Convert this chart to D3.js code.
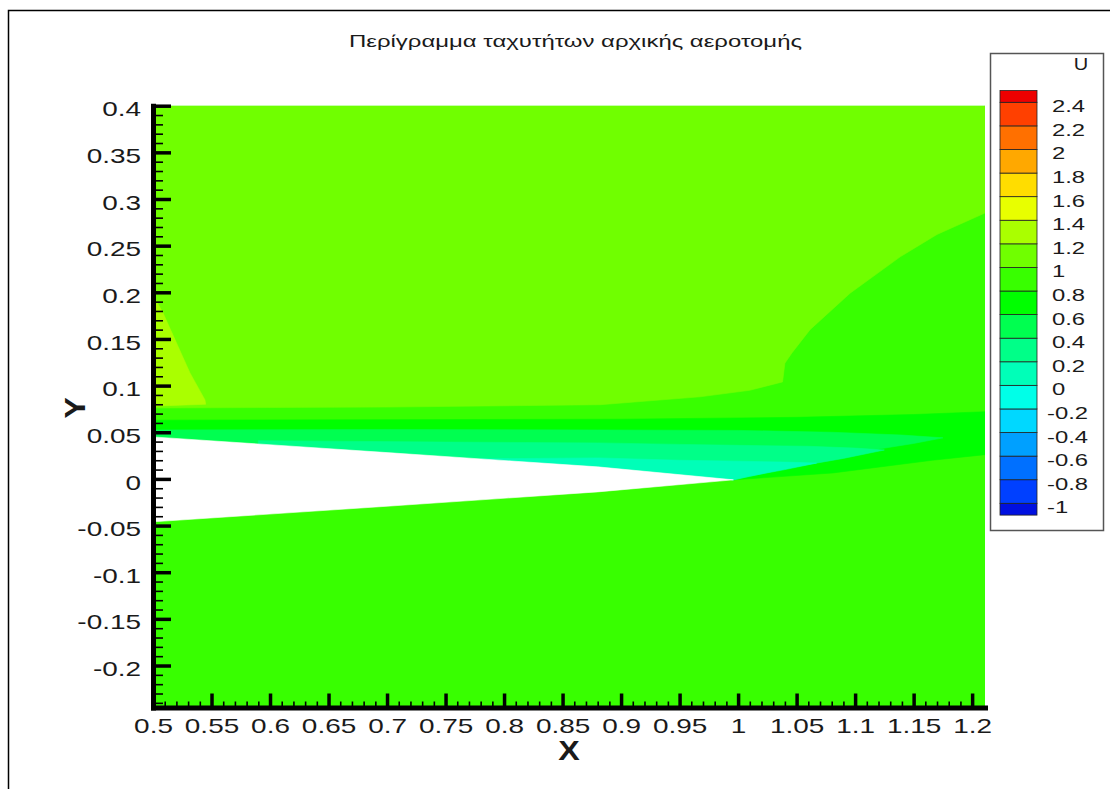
<!DOCTYPE html>
<html>
<head>
<meta charset="utf-8">
<script src="https://cdn.jsdelivr.net/npm/d3@7"></script>
<style>
  body { margin: 0; background: #fff; }
  text { font-family: "Liberation Sans", Arial, sans-serif; fill: #1a1a1a; }
</style>
</head>
<body>
<svg id="chart" width="1110" height="789"></svg>
<script>
// contour levels of U and the colour of each band (low -> high)
const levels = [-1, -0.8, -0.6, -0.4, -0.2, 0, 0.2, 0.4, 0.6, 0.8, 1, 1.2, 1.4, 1.6, 1.8, 2, 2.2, 2.4];
const levelLabels = ["-1", "-0.8", "-0.6", "-0.4", "-0.2", "0", "0.2", "0.4", "0.6", "0.8", "1", "1.2", "1.4", "1.6", "1.8", "2", "2.2", "2.4"];
const bandColors = ["#0010e0", "#0040ff", "#0070ff", "#00a0ff", "#00d8ff", "#00ffe8", "#00ffb8", "#00ff88",
  "#00ff50", "#00ff00", "#38ff00", "#70ff00", "#aaff00", "#e8ff00", "#ffdd00", "#ffa800", "#ff7000", "#ff4000", "#ee0000"];

const xTicks = [0.5, 0.55, 0.6, 0.65, 0.7, 0.75, 0.8, 0.85, 0.9, 0.95, 1, 1.05, 1.1, 1.15, 1.2];
const xTickLabels = ["0.5", "0.55", "0.6", "0.65", "0.7", "0.75", "0.8", "0.85", "0.9", "0.95", "1", "1.05", "1.1", "1.15", "1.2"];
const yTicks = [0.4, 0.35, 0.3, 0.25, 0.2, 0.15, 0.1, 0.05, 0, -0.05, -0.1, -0.15, -0.2];
const yTickLabels = ["0.4", "0.35", "0.3", "0.25", "0.2", "0.15", "0.1", "0.05", "0", "-0.05", "-0.1", "-0.15", "-0.2"];

// contour regions, [x, y] in data units
const freeStream = [[0.5, -0.245], [1.211, -0.245], [1.211, 0.4], [0.5, 0.4]];
const upperFlow = [[0.5, 0.4], [1.211, 0.4], [1.211, 0.285], [1.17, 0.262], [1.1385, 0.238], [1.0957, 0.199],
  [1.0615, 0.16], [1.046, 0.135], [1.04, 0.124], [1.038, 0.104], [1.01, 0.095], [0.9675, 0.088],
  [0.882, 0.0795], [0.7, 0.077], [0.5, 0.076]];
const leadingWedge = [[0.5, 0.197], [0.5085, 0.178], [0.5316, 0.1136], [0.5444, 0.0847], [0.545, 0.08], [0.5, 0.078]];
const shearLayer = [[0.5, 0.063], [0.9, 0.064], [1.05, 0.066], [1.15, 0.069], [1.211, 0.072], [1.211, 0.026],
  [1.166, 0.02], [1.081, 0.0064], [0.996, -0.001], [0.88, 0.0129], [0.7, 0.0282], [0.5, 0.045]];
const innerLayer = [[0.5, 0.0525], [0.7, 0.053], [0.88, 0.0525], [1.0, 0.052], [1.08, 0.05], [1.14, 0.047],
  [1.175, 0.044], [1.15, 0.038], [1.1, 0.028], [1.05, 0.017], [1.02, 0.008], [0.996, -0.001],
  [0.88, 0.0129], [0.7, 0.0282], [0.5, 0.045]];
const nearWall = [[0.59, 0.041], [0.75, 0.0395], [0.88, 0.0386], [0.95, 0.037], [1.0, 0.036], [1.06, 0.035],
  [1.1, 0.033], [1.125, 0.031], [1.09, 0.022], [1.04, 0.011], [1.015, 0.004], [0.996, -0.001],
  [0.88, 0.0129], [0.7, 0.0282], [0.59, 0.037]];
const wakeCore = [[0.78, 0.0215], [0.88, 0.0225], [0.95, 0.02], [1.0, 0.019], [1.04, 0.018], [1.067, 0.017],
  [1.04, 0.01], [1.01, 0.003], [0.996, -0.001], [0.88, 0.0129], [0.78, 0.0214]];
const airfoil = [[0.5, 0.045], [0.7, 0.0282], [0.88, 0.0129], [0.996, -0.001], [0.88, -0.0139],
  [0.7, -0.0293], [0.5, -0.046]];

const regions = [
  { u: 0.9, pts: freeStream },
  { u: 1.1, pts: upperFlow },
  { u: 1.3, pts: leadingWedge },
  { u: 0.7, pts: shearLayer },
  { u: 0.5, pts: innerLayer },
  { u: 0.3, pts: nearWall },
  { u: 0.1, pts: wakeCore }
];

const svg = d3.select("#chart");

const x = d3.scaleLinear().domain([0.5, 1.211]).range([153, 985]);
const y = d3.scaleLinear().domain([-0.245, 0.4]).range([707.5, 105.7]);
const color = d3.scaleThreshold().domain(levels).range(bandColors);

function stretch(sel, k) {
  sel.each(function () {
    const w = this.getComputedTextLength();
    d3.select(this).attr("textLength", w * k).attr("lengthAdjust", "spacingAndGlyphs");
  });
}

// outer frame
svg.append("rect").attr("x", 8.5).attr("y", 10.5).attr("width", 1300).attr("height", 1000)
  .attr("fill", "none").attr("stroke", "#000").attr("stroke-width", 1.5);

svg.append("clipPath").attr("id", "plotclip").append("rect")
  .attr("x", x(0.5)).attr("y", y(0.4))
  .attr("width", x(1.211) - x(0.5)).attr("height", y(-0.245) - y(0.4));

const line = d3.line().x(d => x(d[0])).y(d => y(d[1])).curve(d3.curveLinearClosed);

const field = svg.append("g").attr("clip-path", "url(#plotclip)");
field.selectAll("path.band").data(regions).enter().append("path")
  .attr("class", "band")
  .attr("d", d => line(d.pts))
  .attr("fill", d => color(d.u))
  .attr("stroke", d => color(d.u))
  .attr("stroke-width", 0.6);
field.append("path").attr("d", line(airfoil)).attr("fill", "#fff").attr("stroke", "#fff").attr("stroke-width", 0.6);

// minor ticks
svg.append("g").attr("transform", `translate(0,${y(-0.245)})`)
  .call(d3.axisBottom(x).tickValues(d3.range(50, 121).map(d => d / 100)).tickSize(-6).tickFormat(""))
  .call(g => g.select(".domain").remove())
  .call(g => g.selectAll("line").attr("stroke-width", 1.6));
svg.append("g").attr("transform", `translate(${x(0.5)},0)`)
  .call(d3.axisLeft(y).tickValues(d3.range(-24, 41).map(d => d / 100)).tickSize(-10).tickFormat(""))
  .call(g => g.select(".domain").remove())
  .call(g => g.selectAll("line").attr("stroke-width", 1.6));

// major ticks
const xAxis = svg.append("g").attr("transform", `translate(0,${y(-0.245)})`)
  .call(d3.axisBottom(x).tickValues(xTicks).tickFormat((d, i) => xTickLabels[i])
    .tickSize(-14).tickSizeOuter(0).tickPadding(11))
  .attr("font-size", 21).attr("font-family", "Liberation Sans, Arial, sans-serif");
xAxis.selectAll("line").attr("stroke-width", 3.5);
xAxis.select(".domain").attr("stroke-width", 5).attr("stroke-linecap", "square");

const yAxis = svg.append("g").attr("transform", `translate(${x(0.5)},0)`)
  .call(d3.axisLeft(y).tickValues(yTicks).tickFormat((d, i) => yTickLabels[i])
    .tickSize(-18).tickSizeOuter(0).tickPadding(12))
  .attr("font-size", 21).attr("font-family", "Liberation Sans, Arial, sans-serif");
yAxis.selectAll("line").attr("stroke-width", 3.5);
yAxis.select(".domain").attr("stroke-width", 5).attr("stroke-linecap", "square");
yAxis.selectAll("text").attr("dy", "0.48em");

xAxis.selectAll("text").attr("fill", "#1a1a1a");
yAxis.selectAll("text").attr("fill", "#1a1a1a");
stretch(xAxis.selectAll("text"), 1.33);
stretch(yAxis.selectAll("text"), 1.33);

// axis titles
svg.append("text").attr("x", 569).attr("y", 760).attr("text-anchor", "middle")
  .attr("font-size", 28).attr("font-weight", "bold").text("X")
  .call(s => stretch(s, 1.15));
svg.append("text").attr("transform", "translate(85,408) rotate(-90)").attr("text-anchor", "middle")
  .attr("font-size", 29).attr("font-weight", "bold").text("Y")
  .call(s => stretch(s, 1.1));

// title
svg.append("text").attr("x", 575.5).attr("y", 47).attr("text-anchor", "middle")
  .attr("font-size", 17).text("Περίγραμμα ταχυτήτων αρχικής αεροτομής")
  .attr("textLength", 453).attr("lengthAdjust", "spacingAndGlyphs");

// colour legend
const legend = svg.append("g");
legend.append("rect").attr("x", 990.5).attr("y", 53.5).attr("width", 113).attr("height", 477)
  .attr("fill", "#fff").attr("stroke", "#555").attr("stroke-width", 1.5);
legend.append("text").attr("x", 1081).attr("y", 70).attr("text-anchor", "middle")
  .attr("font-size", 16).text("U").call(s => stretch(s, 1.25));

const ly = d3.scaleLinear().domain([-1, 2.4]).range([503.3, 102.3]);
const swatches = bandColors.map((c, i) => ({
  lo: i === 0 ? levels[0] - 0.1 : levels[i - 1],
  hi: i === levels.length ? levels[i - 1] + 0.1 : levels[i],
  c: c
}));
legend.selectAll("rect.sw").data(swatches).enter().append("rect")
  .attr("class", "sw")
  .attr("x", 1000).attr("width", 37)
  .attr("y", d => ly(d.hi)).attr("height", d => ly(d.lo) - ly(d.hi))
  .attr("fill", d => d.c).attr("stroke", "#222").attr("stroke-width", 0.8);
legend.selectAll("text.lv").data(levels).enter().append("text")
  .attr("class", "lv")
  .attr("x", d => d < 0 ? 1047 : 1052)
  .attr("y", d => ly(d) + 10)
  .attr("font-size", 17)
  .text((d, i) => levelLabels[i])
  .call(s => stretch(s, 1.4));
</script>
</body>
</html>
